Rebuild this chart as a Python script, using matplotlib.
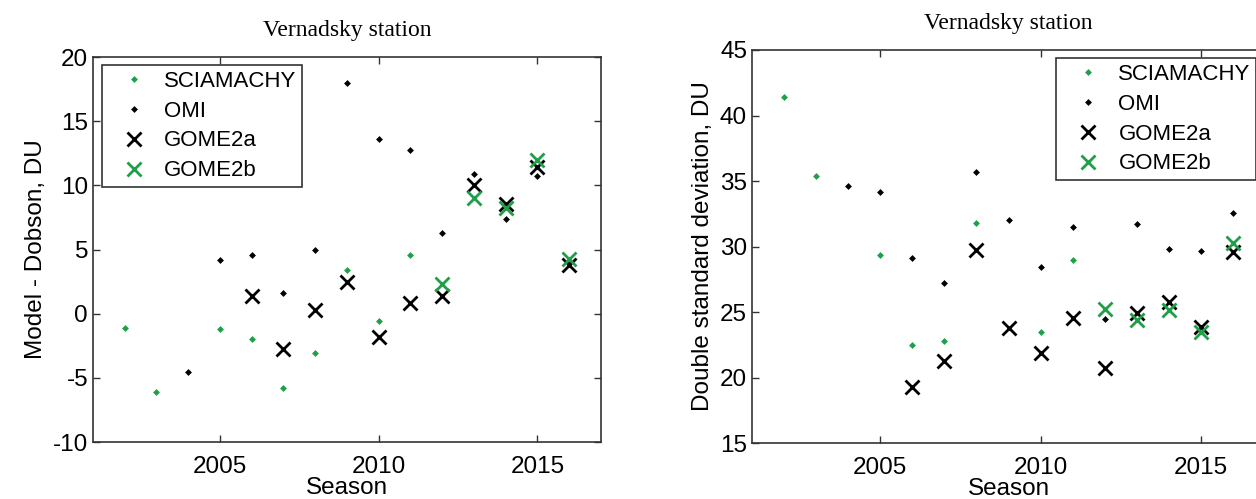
import matplotlib
matplotlib.use('Agg')
import matplotlib.pyplot as plt

# seasons and values
sciamachy_years = [2002, 2003, 2005, 2006, 2007, 2008, 2009, 2010, 2011]
sciamachy_bias = [-1.1, -6.1, -1.2, -2.0, -5.8, -3.1, 3.4, -0.55, 4.6]
sciamachy_years_sd = [2002, 2003, 2005, 2006, 2007, 2008, 2010, 2011]
sciamachy_sd = [41.45, 35.35, 29.35, 22.5, 22.8, 31.8, 23.45, 28.95]

omi_years = [2004, 2005, 2006, 2007, 2008, 2009, 2010, 2011, 2012, 2013, 2014, 2015, 2016]
omi_bias = [-4.55, 4.2, 4.6, 1.65, 5.0, 18.0, 13.65, 12.75, 6.3, 10.9, 7.35, 10.75, 4.0]
omi_sd = [34.6, 34.15, 29.15, 27.25, 35.7, 32.0, 28.45, 31.5, 24.45, 31.7, 29.8, 29.65, 32.55]

gome2a_years = [2006, 2007, 2008, 2009, 2010, 2011, 2012, 2013, 2014, 2015, 2016]
gome2a_bias = [1.35, -2.75, 0.25, 2.45, -1.8, 0.8, 1.35, 10.0, 8.55, 11.45, 3.8]
gome2a_sd = [19.25, 21.25, 29.75, 23.8, 21.85, 24.55, 20.7, 24.95, 25.8, 23.85, 29.55]

gome2b_years = [2012, 2013, 2014, 2015, 2016]
gome2b_bias = [2.3, 9.0, 8.2, 11.95, 4.3]
gome2b_sd = [25.2, 24.4, 25.15, 23.45, 30.3]

labels = ['SCIAMACHY', 'OMI', 'GOME2a', 'GOME2b']
green = '#1f9f48'

plt.rcParams['font.family'] = ['Liberation Sans', 'DejaVu Sans']
plt.rcParams['axes.unicode_minus'] = False

fig = plt.figure(figsize=(12.56, 4.99), dpi=100)
ax1 = fig.add_axes([0.074, 0.1142, 0.4045, 0.7715])
ax2 = fig.add_axes([0.5987, 0.1122, 0.4085, 0.7876])


def draw(ax, ys, ylabel, ylim, yticks, legend_x):
    sc_x, sc_y, omi_y, ga_y, gb_y = ys
    ax.plot(sc_x, sc_y, 'D', color=green, ms=3.5, mew=0, label=labels[0])
    ax.plot(omi_years, omi_y, 'D', color='black', ms=3.5, mew=0, label=labels[1])
    ax.plot(gome2a_years, ga_y, 'x', color='black', ms=10, mew=2, label=labels[2])
    ax.plot(gome2b_years, gb_y, 'x', color=green, ms=10, mew=2, label=labels[3])

    ax.set_xlim(2001, 2017)
    ax.set_ylim(*ylim)
    ax.set_xticks([2005, 2010, 2015])
    ax.set_yticks(yticks)
    ax.tick_params(direction='in', length=5, width=1, labelsize=17.5,
                   top=True, right=True, colors='#333333', labelcolor='black')
    ax.tick_params(axis='x', pad=10)
    for s in ax.spines.values():
        s.set_color('#333333')
        s.set_linewidth(1.2)
    ax.set_xlabel('Season', fontsize=17.5, labelpad=-1)
    ax.set_ylabel(ylabel, fontsize=17.5, labelpad=4)
    ax.set_title('Vernadsky station', fontsize=17, family='Liberation Serif', pad=15)

    leg = ax.legend(loc='upper left', bbox_to_anchor=(legend_x, 0.979), borderaxespad=0,
                    fontsize=16, fancybox=False, framealpha=1, edgecolor='#333333',
                    labelspacing=0.4, handlelength=2.4, handletextpad=0.15, borderpad=0.25)
    leg.get_frame().set_linewidth(1.2)


draw(ax1, (sciamachy_years, sciamachy_bias, omi_bias, gome2a_bias, gome2b_bias),
     'Model - Dobson, DU', (-10, 20), range(-10, 21, 5), 0.018)
draw(ax2, (sciamachy_years_sd, sciamachy_sd, omi_sd, gome2a_sd, gome2b_sd),
     'Double standard deviation, DU', (15, 45), range(15, 46, 5), 0.593)

fig.savefig('out.png', dpi=100)
